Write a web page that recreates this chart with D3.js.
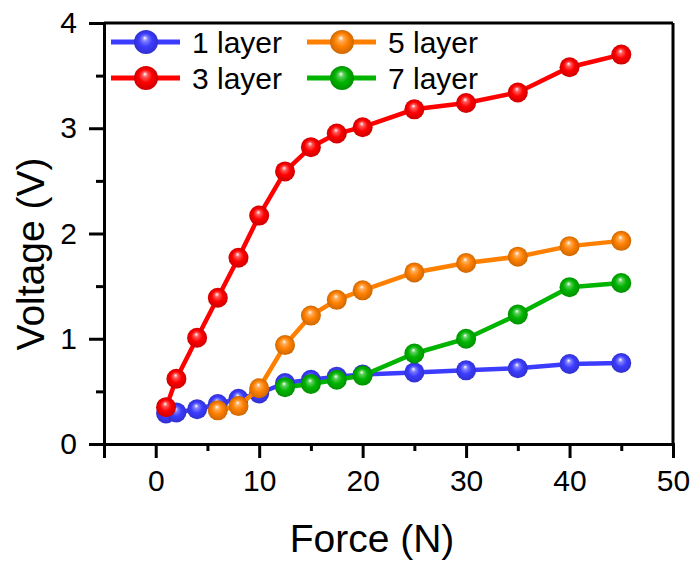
<!DOCTYPE html>
<html><head><meta charset="utf-8">
<script src="https://cdn.jsdelivr.net/npm/d3@7"></script>
<style>body{margin:0;background:#fff}svg{display:block}text{font-family:"Liberation Sans",Arial,sans-serif;fill:#000}</style>
</head><body>
<svg id="c" width="697" height="565"></svg>
<script>
const seriesNames = ["1 layer","3 layer","5 layer","7 layer"];
const colors = ["#3c3cff","#ff0000","#ff8000","#00b400"];
const x1 = [1,2,4,6,8,10,12.5,15,17.5,20,25,30,35,40,45];
const y1 = [0.29,0.30,0.33,0.38,0.43,0.48,0.58,0.61,0.64,0.66,0.68,0.70,0.72,0.76,0.77];
const x3 = [1,2,4,6,8,10,12.5,15,17.5,20,25,30,35,40,45];
const y3 = [0.35,0.62,1.01,1.39,1.77,2.17,2.59,2.82,2.95,3.01,3.18,3.24,3.34,3.58,3.70];
const x5 = [6,8,10,12.5,15,17.5,20,25,30,35,40,45];
const y5 = [0.32,0.36,0.53,0.94,1.22,1.37,1.46,1.63,1.72,1.78,1.88,1.93];
const x7 = [12.5,15,17.5,20,25,30,35,40,45];
const y7 = [0.54,0.57,0.61,0.65,0.86,1.00,1.23,1.49,1.53];
const xTicks = [0,10,20,30,40,50];
const yTicks = [0,1,2,3,4];
const xLabel = "Force (N)", yLabel = "Voltage (V)";

const svg = d3.select("#c");
const x = d3.scaleLinear().domain([-5,50]).range([104,673]);
const y = d3.scaleLinear().domain([0,4]).range([444,23]);
const data = [[x1,y1],[x3,y3],[x5,y5],[x7,y7]].map((s,i)=>({name:seriesNames[i],color:colors[i],pts:s[0].map((v,j)=>[v,s[1][j]])}));

const defs = svg.append("defs");
data.forEach((d,i)=>{
  const c = d3.color(d.color);
  const g = defs.append("radialGradient").attr("id","g"+i).attr("cx","50%").attr("cy","50%").attr("r","50%").attr("fx","45%").attr("fy","32%");
  g.append("stop").attr("offset","0%").attr("stop-color","#fff");
  g.append("stop").attr("offset","22%").attr("stop-color",d3.interpolateRgb(d.color,"#fff")(0.35));
  g.append("stop").attr("offset","55%").attr("stop-color",d.color);
  g.append("stop").attr("offset","100%").attr("stop-color",c.darker(0.6).toString());
});

// frame
svg.append("line").attr("x1",x(-5)).attr("x2",x(50)).attr("y1",y(4)).attr("y2",y(4)).attr("stroke","#000").attr("stroke-width",3);
svg.append("line").attr("x1",x(50)).attr("x2",x(50)).attr("y1",y(0)).attr("y2",y(4)).attr("stroke","#000").attr("stroke-width",3);

// axes
const xAxis = svg.append("g").attr("transform",`translate(0,${y(0)})`)
  .call(d3.axisBottom(x).tickValues(xTicks).tickSize(14).tickPadding(12).tickFormat(d3.format("d")));
const xMinor = svg.append("g").attr("transform",`translate(0,${y(0)})`)
  .call(d3.axisBottom(x).tickValues([-5,5,15,25,35,45]).tickSize(7).tickFormat(""));
const yAxis = svg.append("g").attr("transform",`translate(${x(-5)},0)`)
  .call(d3.axisLeft(y).tickValues(yTicks).tickSize(15).tickPadding(12).tickFormat(d3.format("d")));
const yMinor = svg.append("g").attr("transform",`translate(${x(-5)},0)`)
  .call(d3.axisLeft(y).tickValues([0.5,1.5,2.5,3.5]).tickSize(8).tickFormat(""));
[xAxis,xMinor,yAxis,yMinor].forEach(a=>{
  a.selectAll("path").attr("stroke","#000").attr("stroke-width",3);
  a.selectAll("line").attr("stroke","#000").attr("stroke-width",3);
  a.selectAll("text").attr("font-size",30).attr("font-family","'Liberation Sans',Arial,sans-serif").attr("fill","#000");
});
xMinor.select("path").remove(); yMinor.select("path").remove();

svg.append("text").attr("x",372).attr("y",552).attr("text-anchor","middle").attr("font-size",39).text(xLabel);
svg.append("text").attr("transform",`translate(44,254) rotate(-90)`).attr("text-anchor","middle").attr("font-size",39).text(yLabel);

// series
const line = d3.line().x(p=>x(p[0])).y(p=>y(p[1]));
data.forEach((d,i)=>{
  const g = svg.append("g");
  g.append("path").attr("d",line(d.pts)).attr("fill","none").attr("stroke",d.color).attr("stroke-width",4.5);
  g.selectAll("circle").data(d.pts).join("circle").attr("cx",p=>x(p[0])).attr("cy",p=>y(p[1])).attr("r",10).attr("fill",`url(#g${i})`);
});

// legend
const legPos = [[111,42],[111,78],[307,42],[307,78]];
data.forEach((d,i)=>{
  const [lx,ly] = legPos[i];
  const g = svg.append("g").attr("transform",`translate(${lx},${ly})`);
  g.append("line").attr("x1",0).attr("x2",69).attr("y1",0).attr("y2",0).attr("stroke",d.color).attr("stroke-width",5);
  g.append("circle").attr("cx",35).attr("cy",0).attr("r",12).attr("fill",`url(#g${i})`);
  g.append("text").attr("x",81).attr("y",11).attr("font-size",30).text(d.name);
});
</script>
</body></html>
